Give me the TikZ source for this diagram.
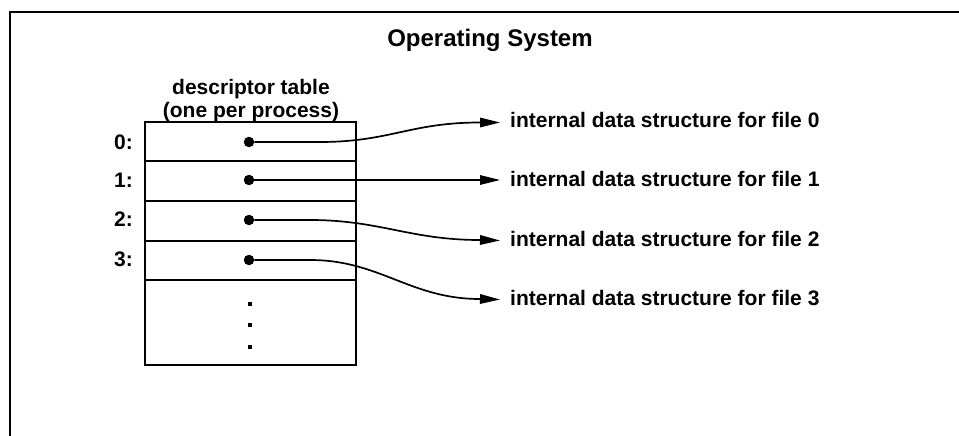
\documentclass[tikz,border=0pt]{standalone}
\usepackage{fontspec}
\setmainfont{Liberation Sans}
\usetikzlibrary{arrows.meta}
\begin{document}
\begin{tikzpicture}[x=1pt,y=-1pt,
  lbl/.style={font=\bfseries\fontsize{21}{23}\selectfont, inner sep=0pt},
  ttl/.style={font=\bfseries\fontsize{24}{26}\selectfont, inner sep=0pt},
  ptr/.style={line width=1.7pt, -{Triangle[length=20pt,width=9.5pt]}},
  dotnode/.style={circle, fill=black, inner sep=0pt, minimum size=10.5pt},
  tick/.style={rectangle, fill=black, inner sep=0pt, minimum size=3.5pt},
  cell/.style={line width=2.2pt}]
\useasboundingbox (0,0) rectangle (959,436);

% enclosing frame, running off the right and bottom edges
\draw[line width=2.2pt] (10,440) -- (10,12) -- (962,12);
\node[ttl, anchor=base] (os) at (490,47) {Operating System};

% descriptor table
\node[lbl, align=center, anchor=south] (dtt) at (251,122)
  {descriptor table\\(one per process)};
\draw[cell] (145,122) rectangle (356,365);
\foreach \y in {161,201,241,280} \draw[cell] (145,\y) -- (356,\y);

% row indices
\node[lbl, anchor=base east] (r0) at (133,149) {0:};
\node[lbl, anchor=base east] (r1) at (133,187) {1:};
\node[lbl, anchor=base east] (r2) at (133,226) {2:};
\node[lbl, anchor=base east] (r3) at (133,266) {3:};

% pointer origins
\node[dotnode] (d0) at (249,142) {};
\node[dotnode] (d1) at (249,180) {};
\node[dotnode] (d2) at (249,220) {};
\node[dotnode] (d3) at (249,260) {};

% vertical ellipsis in the remaining cell
\node[tick] (e1) at (250,304) {};
\node[tick] (e2) at (250,325) {};
\node[tick] (e3) at (250,347) {};

% targets
\node[lbl, anchor=base west] (f0) at (510,128) {internal data structure for file 0};
\node[lbl, anchor=base west] (f1) at (510,186) {internal data structure for file 1};
\node[lbl, anchor=base west] (f2) at (510,246) {internal data structure for file 2};
\node[lbl, anchor=base west] (f3) at (510,305) {internal data structure for file 3};

% pointers
\draw[ptr] (d0) -- (320,142) .. controls (390,142) and (410,122.5) .. (480,122.5)
  -- ([xshift=-10pt,yshift=-2pt]f0.west);
\draw[ptr] (d1) -- ([xshift=-10pt]d1 -| f1.west);
\draw[ptr] (d2) -- (310,220) .. controls (380,220) and (410,240) .. (480,240)
  -- ([xshift=-10pt,yshift=-2pt]f2.west);
\draw[ptr] (d3) -- (310,260) .. controls (380,260) and (410,299) .. (480,299)
  -- ([xshift=-10pt,yshift=-2pt]f3.west);
\end{tikzpicture}
\end{document}
